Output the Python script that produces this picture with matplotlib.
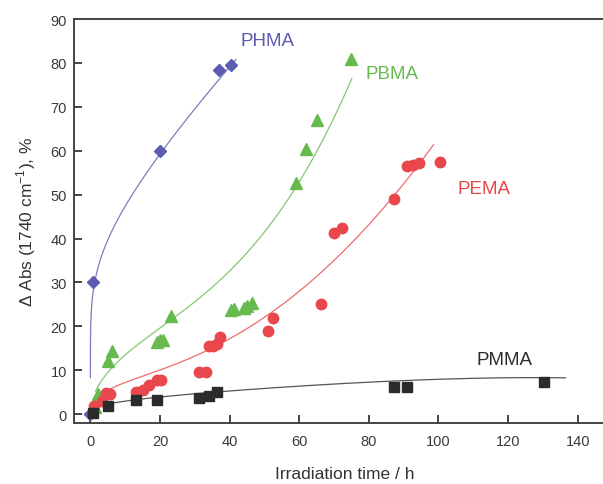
import numpy as np
import matplotlib
matplotlib.use("Agg")
import matplotlib.pyplot as plt

plt.rcParams['font.family'] = ['Liberation Sans', 'DejaVu Sans']
plt.rcParams['mathtext.fontset'] = 'custom'
plt.rcParams['mathtext.rm'] = 'Liberation Sans'

# measured points (time in h, delta abs in %)
phma_t = [0, 0.7, 20, 37, 40.5]
phma_y = [0, 30, 60, 78.5, 79.5]

pbma_t = [1.2, 2.2, 5.0, 6.3, 19, 20, 20.9, 23.3, 40.4, 41.2, 44.2, 44.9, 46.3, 59, 62, 65, 75]
pbma_y = [1.6, 4.5, 12.1, 14.4, 16.4, 16.8, 17, 22.4, 23.8, 24, 24.2, 24.6, 25.3, 52.6, 60.3, 67, 81]

pema_t = [1, 3.2, 4.4, 5.5, 13, 15, 16.8, 19, 20.4, 31.3, 33.2, 34.1, 35.2, 36.3, 37.2,
          51.1, 52.4, 66.2, 70.1, 72.2, 87.3, 91.1, 92.8, 94.3, 100.3]
pema_y = [1.9, 3, 4.8, 4.7, 5.1, 5.5, 6.6, 7.7, 7.9, 9.7, 9.7, 15.5, 15.5, 15.9, 17.6,
          18.9, 21.9, 25.1, 41.2, 42.5, 49.1, 56.5, 56.7, 57.2, 57.4]

pmma_t = [0.7, 5.1, 13, 19, 31.2, 34.1, 36.3, 87.3, 91.1, 130.2]
pmma_y = [0.2, 1.9, 3.2, 3.3, 3.6, 4.2, 5.1, 6.3, 6.3, 7.3]

# trend lines (a few values along each drawn curve)
phma_ct = [1.2, 5.6, 12.3, 20.4, 27.6, 35.3, 41.8]
phma_cy = [30, 39.7, 51.8, 59.9, 66.5, 73.7, 81.6]

pbma_ct = [1.5, 9.4, 22.8, 35.3, 49.7, 58.3, 64.1, 70.8, 75.1]
pbma_cy = [4.5, 11.7, 22.6, 30.6, 40.4, 50.3, 57.8, 67.6, 78.2]

pema_ct = [2.7, 19, 35.3, 51.6, 57.3, 71.7, 81.3, 87.6, 93.8, 98.6]
pema_cy = [4.2, 9.4, 15.9, 23, 26.1, 35.9, 44.2, 50.3, 56.7, 61.2]

pmma_ct = [0.5, 5.6, 19, 36.3, 57.3, 98.6, 127.4, 136.5]
pmma_cy = [0.5, 1.9, 4.2, 5.3, 6.6, 7.6, 7.9, 8.7]

series = [
    # name, t, y, curve t, curve y, colour, marker, size, fit exponents, curve start, label pos
    ("PHMA", phma_t, phma_y, phma_ct, phma_cy, "#5b5bb0", "D", 6.5, [0.15, 1], 0.0003, (43.2, 85)),
    ("PBMA", pbma_t, pbma_y, pbma_ct, pbma_cy, "#66ba4e", "^", 8.5, [0.5, 1, 3], None, (79, 77.6)),
    ("PEMA", pema_t, pema_y, pema_ct, pema_cy, "#e8474b", "o", 7.5, [0.5, 1, 2], None, (105.5, 51.5)),
    ("PMMA", pmma_t, pmma_y, pmma_ct, pmma_cy, "#2b2b2b", "s", 6.5, [0.3, 1, 4], None, (111, 12.5)),
]


def smooth_curve(t, y, exps, t0=None):
    # least squares fit y = sum(c * t**e) through the read curve values
    t = np.asarray(t, float)
    y = np.asarray(y, float)
    A = np.column_stack([t ** e for e in exps])
    coef, *_ = np.linalg.lstsq(A, y, rcond=None)
    start = t.min() if t0 is None else t0
    tt = np.geomspace(start, t.max(), 500)
    yy = sum(c * tt ** e for c, e in zip(coef, exps))
    return tt, yy


fig = plt.figure(figsize=(6.03, 4.85), dpi=100)
ax = fig.add_axes([74 / 603, 1 - 424 / 485, (616 - 74) / 603, (424 - 20) / 485])

for name, t, y, ct, cy, col, mk, ms, exps, t0, lab in series:
    tt, yy = smooth_curve(ct, cy, exps, t0)
    ax.plot(tt, yy, color=col, lw=0.9, alpha=0.8, zorder=2)
    ax.plot(t, y, ls="none", marker=mk, ms=ms, color=col, mec=col, zorder=3)
    ax.text(lab[0], lab[1], name, color=col, fontsize=13.5, ha="left", va="center")

ax.set_xlim(-4.7, 151)
ax.set_ylim(-2, 90)
ax.set_xticks(np.arange(0, 141, 20))
ax.set_yticks(np.arange(0, 91, 10))

for s in ["left", "bottom", "top"]:
    ax.spines[s].set_linewidth(1.4)
    ax.spines[s].set_color("#444444")
ax.spines["right"].set_visible(False)
ax.tick_params(direction="in", length=6, width=1.4, color="#444444",
               labelsize=10.5, labelcolor="#3a3a3a")
ax.tick_params(axis="x", pad=8)
ax.tick_params(axis="y", pad=5)

ax.set_xlabel("Irradiation time / h", fontsize=12.5, color="#333333", labelpad=13)
ax.set_ylabel(r"$\Delta$ Abs (1740 cm$^{-1}$), %", fontsize=12.5, color="#333333", labelpad=9)

fig.savefig("out.png", dpi=100)
